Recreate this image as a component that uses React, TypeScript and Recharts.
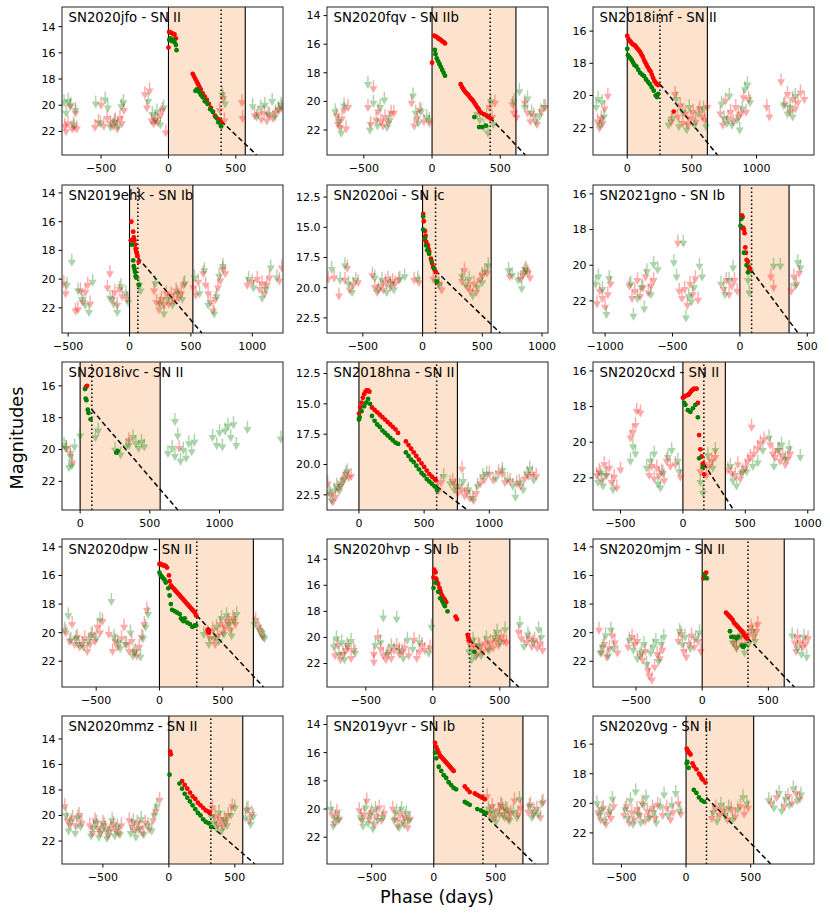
import React from 'react';
import {
  ComposedChart,
  XAxis,
  YAxis,
  Scatter,
  ReferenceArea,
  ReferenceLine,
} from 'recharts';

type Pt = [number, number];

// ---- detections (red = r band, green = g band) and upper limits, per object ----
const jfoRed: Pt[] = [[0,15.6],[5,14.4],[15,14.45],[25,14.5],[35,14.55],[45,14.6],[55,14.9],[180,17.6],[190,17.8],[200,18.0],[210,18.2],[220,18.4],[230,18.6],[240,18.8],[255,19.1],[270,19.35],[285,19.6],[300,19.9],[315,20.2],[330,20.5],[345,20.8],[360,21.0],[375,21.1],[390,21.3]];
const jfoGrn: Pt[] = [[5,15.0],[15,14.9],[25,15.1],[35,15.0],[45,15.2],[55,15.4],[60,15.8],[200,18.9],[210,18.8],[220,18.9],[230,19.0],[240,19.2],[255,19.4],[270,19.7],[290,19.9],[310,20.3],[330,20.5],[350,20.9],[370,21.3],[390,21.6]];
const jfoRedLim: Pt[] = [[-770,21.8],[-760,22.2],[-745,21.6],[-730,20.3],[-715,22.0],[-700,21.9],[-690,20.8],[-680,22.0],[-545,21.9],[-520,21.5],[-500,20.2],[-480,21.8],[-455,21.2],[-430,21.6],[-410,21.8],[-395,21.4],[-380,22.0],[-360,21.2],[-345,21.6],[-330,20.6],[-175,19.4],[-160,20.4],[-140,19.1],[-125,21.4],[-110,21.6],[-95,21.3],[-80,21.5],[-60,21.0],[-45,20.6],[-20,22.3],[380,20.6],[405,19.7],[415,21.4],[545,20.0],[550,21.2],[640,21.0],[665,20.9],[690,21.3],[710,20.8],[730,21.4],[750,21.0],[775,21.2],[795,20.8],[820,20.6],[840,20.4]];
const jfoGrnLim: Pt[] = [[-775,20.0],[-760,20.8],[-745,19.9],[-725,20.2],[-705,21.7],[-690,20.6],[-540,20.1],[-505,21.6],[-470,19.8],[-450,20.4],[-430,21.9],[-400,21.5],[-375,21.8],[-350,20.3],[-335,20.0],[-150,19.9],[-120,20.9],[-100,21.4],[-85,20.7],[-60,21.7],[-35,20.4],[400,19.4],[395,21.8],[420,20.1],[625,20.3],[655,21.1],[685,20.4],[715,20.2],[740,20.9],[770,19.9],[790,21.1],[815,20.5],[835,20.2]];

const fqvRed: Pt[] = [[0,17.3],[15,15.4],[25,15.45],[35,15.5],[45,15.6],[55,15.65],[65,15.7],[75,15.8],[85,15.85],[95,15.95],[210,18.8],[220,19.0],[230,19.15],[240,19.3],[250,19.4],[260,19.5],[270,19.6],[280,19.75],[290,19.85],[300,19.95],[310,20.1],[320,20.25],[330,20.4],[340,20.5],[350,20.7],[360,20.8],[380,20.9],[400,21.0],[415,21.1],[430,21.2]];
const fqvGrn: Pt[] = [[20,16.4],[25,16.7],[35,17.0],[45,17.2],[55,17.4],[65,17.6],[75,17.8],[85,18.0],[95,18.2],[310,21.1],[345,21.8],[365,21.8],[395,21.7]];
const fqvRedLim: Pt[] = [[-700,21.2],[-690,21.8],[-675,22.0],[-660,21.4],[-645,20.8],[-630,22.1],[-615,20.6],[-470,20.6],[-450,21.8],[-430,19.3],[-410,21.5],[-395,20.9],[-375,21.6],[-360,21.9],[-345,21.3],[-320,21.7],[-300,21.0],[-280,21.0],[-150,20.3],[-130,21.9],[-110,21.4],[-90,20.8],[-60,21.6],[-20,21.7],[420,20.6],[440,21.3],[460,20.3],[590,20.4],[600,21.0],[620,21.3],[680,20.3],[700,21.0],[720,21.6],[745,21.2],[770,21.8],[800,20.9],[830,20.6]];
const fqvGrnLim: Pt[] = [[-710,20.9],[-685,21.6],[-665,22.4],[-645,20.5],[-470,19.0],[-455,22.2],[-430,20.3],[-400,21.9],[-380,20.6],[-350,20.1],[-330,22.0],[-310,21.5],[-140,19.8],[-120,21.0],[-100,21.7],[-80,20.9],[-40,21.3],[-20,21.5],[330,21.1],[350,21.5],[380,22.0],[400,21.2],[410,22.4],[430,20.2],[450,21.8],[600,20.2],[640,19.5],[680,20.6],[700,20.0],[730,21.0],[760,21.6],[790,21.2],[820,20.6]];

const imfRed: Pt[] = [[0,16.3],[10,16.5],[20,16.6],[30,16.7],[40,16.8],[50,16.85],[60,16.9],[70,17.0],[80,17.1],[90,17.2],[100,17.3],[110,17.45],[120,17.6],[130,17.8],[140,17.95],[150,18.1],[160,18.25],[170,18.4],[180,18.5],[190,18.7],[200,18.9],[210,19.1],[220,19.2],[230,19.3],[240,19.35],[360,21.0]];
const imfGrn: Pt[] = [[0,17.1],[5,17.5],[15,17.6],[25,17.7],[35,17.8],[45,17.95],[55,18.1],[70,18.2],[85,18.4],[100,18.6],[115,18.7],[130,18.8],[145,19.0],[160,19.15],[175,19.3],[190,19.5],[205,19.7],[220,20.0],[230,20.1],[240,19.9]];
const imfRedLim: Pt[] = [[-230,21.8],[-215,22.2],[-200,21.6],[-190,21.9],[-175,21.0],[-150,20.2],[340,21.8],[370,20.1],[390,21.5],[410,20.8],[430,21.9],[450,21.3],[470,22.0],[490,21.6],[510,21.2],[530,21.8],[560,21.0],[580,21.5],[600,21.7],[620,20.9],[720,21.3],[740,22.0],[760,20.5],[780,21.6],[800,21.2],[820,21.8],[840,20.9],[860,21.5],[880,21.3],[900,20.3],[920,21.2],[940,20.4],[1080,20.9],[1100,21.5],[1190,19.3],[1220,20.7],[1240,20.1],[1260,21.2],[1280,20.4],[1300,21.0],[1320,20.6],[1340,20.0],[1370,20.4]];
const imfGrnLim: Pt[] = [[-240,20.9],[-225,20.4],[-210,22.0],[-195,20.6],[-180,21.5],[320,22.0],[350,21.6],[380,20.4],[400,22.1],[430,21.2],[460,22.3],[480,20.9],[520,22.0],[550,21.3],[590,21.0],[610,22.1],[730,20.7],[750,21.6],[770,21.9],[790,20.2],[810,22.0],[850,21.7],[870,22.3],[890,21.0],[910,19.8],[930,19.5],[950,20.6],[1210,20.8],[1240,21.3],[1260,20.9],[1280,21.5],[1300,20.2]];

const ehkRed: Pt[] = [[10,17.3],[15,16.0],[25,17.3],[30,16.7],[35,17.1],[40,17.3],[45,17.6],[50,17.9],[55,18.1],[60,18.2],[65,18.4],[75,18.8]];
const ehkGrn: Pt[] = [[20,17.6],[30,18.7],[35,19.1],[40,19.3],[45,19.5],[50,19.8],[55,19.9],[75,20.4]];
const ehkRedLim: Pt[] = [[-535,20.5],[-520,21.2],[-440,22.4],[-420,22.3],[-400,21.0],[-380,21.8],[-360,21.1],[-340,20.6],[-320,21.9],[-180,20.8],[-160,19.8],[-140,21.6],[-120,21.1],[-100,22.0],[-80,20.9],[-60,21.4],[-20,21.6],[200,21.0],[220,21.8],[240,22.3],[260,21.6],[280,22.0],[300,21.2],[320,21.9],[340,21.3],[360,21.7],[380,21.0],[400,21.5],[420,21.2],[440,20.6],[520,20.8],[540,21.3],[560,20.4],[600,19.8],[620,20.6],[640,21.2],[660,21.8],[680,22.4],[700,21.6],[720,20.8],[740,20.3],[760,19.5],[780,19.8],[960,20.6],[1000,20.4],[1040,20.2],[1060,20.9],[1080,20.5],[1100,21.2],[1120,20.6],[1140,20.1],[1220,20.3],[1240,19.4]];
const ehkGrnLim: Pt[] = [[-510,20.6],[-470,19.0],[-420,21.0],[-390,21.6],[-360,22.0],[-330,22.5],[-300,20.4],[-160,21.5],[-130,21.9],[-100,22.5],[-70,20.7],[-30,21.2],[-10,21.8],[80,20.6],[90,21.0],[210,20.5],[250,21.9],[280,22.6],[310,21.6],[350,22.0],[390,21.2],[430,21.6],[450,20.5],[530,20.1],[570,21.2],[610,19.6],[640,22.0],[690,22.6],[710,21.4],[730,20.0],[760,19.3],[970,20.2],[1010,20.8],[1080,21.5],[1110,20.9],[1150,19.4],[1200,20.1]];

const oiRed: Pt[] = [[5,13.9],[10,14.5],[15,16.0],[20,15.3],[25,15.7],[30,16.2],[35,16.4],[45,16.5],[50,16.8],[55,17.0],[70,17.6],[80,18.0],[90,18.3],[100,18.5],[110,18.7]];
const oiGrn: Pt[] = [[5,14.1],[5,15.2],[20,15.9],[30,16.5],[40,16.9],[55,17.2],[75,17.8],[95,18.4],[120,19.5]];
const oiRedLim: Pt[] = [[-790,19.5],[-740,19.4],[-700,20.9],[-650,19.6],[-630,18.6],[-610,20.4],[-580,20.0],[-540,19.8],[-420,19.2],[-400,20.2],[-380,20.6],[-350,20.1],[-330,20.4],[-310,19.8],[-290,19.5],[-270,20.2],[-250,19.7],[-230,19.9],[-200,19.6],[-70,19.6],[-30,19.8],[90,19.5],[130,19.9],[160,20.4],[330,19.7],[350,18.8],[380,20.2],[400,20.5],[430,19.9],[450,20.6],[480,19.6],[500,19.2],[540,19.0],[730,19.3],[820,19.5],[840,19.2],[860,18.7],[880,19.0],[900,19.4]];
const oiGrnLim: Pt[] = [[-760,18.7],[-690,19.6],[-650,18.4],[-620,19.9],[-590,20.6],[-560,19.6],[-400,19.4],[-370,20.4],[-340,19.6],[-300,20.6],[-270,19.9],[-240,20.4],[-190,19.5],[-150,19.3],[-40,19.5],[110,19.7],[140,20.0],[330,19.3],[360,20.0],[390,19.5],[420,20.9],[460,20.2],[500,19.8],[520,18.9],[550,18.4],[720,18.8],[750,19.2],[800,19.6],[830,20.3],[850,19.0],[870,18.8]];

const gnoRed: Pt[] = [[15,17.2],[20,17.3],[25,17.9],[15,17.9],[30,18.0],[35,18.2],[40,19.0],[45,19.3],[50,19.7],[60,19.8],[65,20.1],[70,20.3],[75,20.2]];
const gnoGrn: Pt[] = [[10,17.4],[5,17.8],[30,19.3],[50,20.0],[60,20.4]];
const gnoRedLim: Pt[] = [[-1060,22.3],[-1040,21.6],[-1020,22.0],[-1000,22.5],[-980,21.8],[-960,21.2],[-820,21.3],[-800,22.0],[-780,21.6],[-760,21.0],[-740,21.9],[-720,21.4],[-700,20.8],[-680,21.7],[-660,21.3],[-640,21.0],[-460,18.9],[-450,21.6],[-430,22.0],[-410,21.5],[-390,22.4],[-370,21.2],[-350,21.8],[-330,20.9],[-310,22.1],[-120,21.5],[-100,21.0],[-80,21.8],[-60,21.3],[-40,21.0],[-20,21.6],[230,20.8],[250,21.4],[380,21.6],[400,20.8],[420,21.2],[440,20.6]];
const gnoGrnLim: Pt[] = [[-1070,21.2],[-1050,20.8],[-1020,21.5],[-990,22.9],[-970,20.9],[-810,21.2],[-790,23.0],[-760,22.0],[-730,21.4],[-710,22.6],[-690,20.5],[-660,21.8],[-640,20.1],[-610,20.4],[-490,20.0],[-470,20.8],[-420,18.9],[-400,23.1],[-380,21.9],[-360,22.2],[-340,21.4],[-300,20.2],[-280,20.8],[-140,21.2],[-110,21.8],[-80,21.0],[-50,20.3],[60,21.0],[70,21.7],[80,20.5],[250,20.2],[300,20.2],[410,21.3],[430,20.0],[450,20.3]];

const ivcRed: Pt[] = [[40,16.1],[50,16.0]];
const ivcGrn: Pt[] = [[35,16.2],[40,16.8],[45,16.9],[55,17.5],[60,17.7],[75,18.1],[260,20.2],[270,20.1]];
const ivcRedLim: Pt[] = [[-100,20.1],[-70,20.4],[-55,21.0],[350,19.6],[710,20.1]];
const ivcGrnLim: Pt[] = [[-115,19.9],[-100,20.1],[-80,21.3],[-70,20.6],[-60,21.2],[-40,20.0],[0,19.3],[110,19.4],[130,19.0],[250,20.2],[290,20.5],[330,20.0],[350,19.9],[380,19.4],[400,19.8],[420,20.1],[440,19.7],[460,20.0],[630,20.4],[660,20.1],[680,20.6],[680,18.4],[700,19.3],[720,20.9],[740,20.2],[760,20.7],[780,19.8],[800,20.3],[820,19.7],[950,19.4],[980,19.9],[1000,19.1],[1020,20.0],[1040,19.0],[1060,18.7],[1080,19.4],[1100,18.6],[1120,19.9],[1200,18.9],[1440,19.5]];

const hnaRed: Pt[] = [[0,15.8],[10,15.3],[20,14.9],[30,14.5],[40,14.2],[50,14.0],[60,13.9],[70,13.9],[80,14.0],[100,15.3],[120,15.5],[140,15.7],[160,15.9],[180,16.1],[200,16.3],[220,16.5],[240,16.7],[260,16.9],[280,17.1],[300,17.4],[360,18.1],[380,18.4],[400,18.7],[420,19.0],[440,19.3],[460,19.6],[480,19.9],[500,20.2],[520,20.5],[540,20.8],[560,21.0],[580,21.2],[590,21.3]];
const hnaGrn: Pt[] = [[0,16.3],[5,16.1],[20,15.6],[40,15.2],[55,14.9],[70,14.6],[85,15.0],[100,16.0],[120,16.4],[140,16.7],[160,16.9],[180,17.2],[200,17.4],[220,17.6],[240,17.8],[260,18.0],[280,18.2],[300,18.3],[360,19.0],[380,19.3],[400,19.6],[420,19.8],[440,20.1],[460,20.4],[480,20.7],[500,20.9],[520,21.2],[540,21.4],[560,21.6],[580,21.8],[600,22.1]];
const hnaRedLim: Pt[] = [[-240,21.8],[-220,22.7],[-200,23.3],[-180,22.9],[-160,22.2],[-140,22.0],[-120,21.5],[-100,21.0],[-80,21.3],[-60,21.2],[610,22.4],[630,21.7],[720,21.6],[740,22.0],[760,22.6],[790,22.3],[790,20.6],[810,22.8],[830,22.5],[850,23.0],[880,23.2],[900,22.6],[930,21.8],[960,21.5],[1000,21.0],[1030,21.5],[1070,20.9],[1100,21.0],[1120,21.7],[1160,21.6],[1210,21.8],[1240,22.0],[1270,21.4],[1300,21.2],[1330,21.0],[1360,21.2]];
const hnaGrnLim: Pt[] = [[-230,22.5],[-210,23.2],[-190,22.4],[-170,22.0],[-150,22.4],[-130,21.8],[-110,21.4],[-90,20.8],[600,22.3],[650,21.2],[700,21.8],[730,22.3],[770,22.0],[800,21.6],[840,22.3],[870,23.0],[910,22.0],[950,21.2],[980,21.0],[1050,21.4],[1100,20.7],[1140,21.5],[1180,22.0],[1200,22.9],[1230,21.7],[1260,22.3],[1290,21.0],[1310,20.6],[1340,21.5]];

const cxdRed: Pt[] = [[0,17.5],[10,17.45],[20,17.4],[40,17.35],[50,17.3],[60,17.2],[70,17.1],[80,17.05],[90,17.0],[110,17.0],[120,17.8],[130,19.6],[140,20.4],[150,20.8],[160,21.2],[170,21.8]];
const cxdGrn: Pt[] = [[10,17.8],[20,17.9],[40,18.2],[60,18.3],[80,18.1],[100,17.9],[120,18.6],[130,20.9],[160,21.4]];
const cxdRedLim: Pt[] = [[-690,22.0],[-670,21.8],[-650,22.3],[-630,21.4],[-610,22.0],[-590,21.6],[-570,22.4],[-550,22.1],[-530,22.7],[-500,21.7],[-420,19.9],[-400,19.6],[-380,19.2],[-370,18.4],[-340,18.5],[-270,22.0],[-250,21.5],[-230,22.2],[-210,21.6],[-190,22.0],[-170,21.8],[-150,22.3],[-130,21.2],[-100,21.5],[-60,21.4],[-20,22.1],[140,21.8],[170,21.4],[190,22.0],[210,21.5],[230,21.2],[260,21.0],[360,21.7],[390,21.9],[420,22.0],[440,21.4],[460,22.2],[480,21.8],[500,21.6],[520,21.2],[540,21.0],[550,19.3],[570,20.8],[600,20.5],[620,20.2],[650,20.0],[700,20.3],[720,20.8],[740,21.0],[760,20.6],[780,21.2],[800,20.9],[820,21.4],[840,21.1],[860,20.8]];
const cxdGrnLim: Pt[] = [[-680,22.4],[-660,21.9],[-640,22.6],[-620,22.0],[-560,22.8],[-420,21.2],[-400,20.4],[-380,20.8],[-290,21.6],[-260,21.2],[-230,20.8],[-200,22.5],[-180,22.7],[-160,21.9],[-120,21.0],[-90,20.6],[-40,21.2],[-30,21.8],[140,22.4],[160,23.0],[200,20.9],[240,21.6],[260,20.6],[380,21.5],[400,22.3],[430,22.6],[470,21.9],[510,21.8],[560,21.5],[600,21.3],[640,20.6],[690,19.9],[730,21.5],[770,20.6],[790,20.3],[820,21.1],[850,20.5],[940,21.0]];

const dpwRed: Pt[] = [[0,15.2],[10,15.2],[20,15.25],[30,15.3],[40,15.3],[50,15.35],[60,15.45],[75,16.0],[80,16.4],[90,16.7],[100,16.8],[110,16.9],[120,17.0],[130,17.1],[140,17.2],[150,17.3],[160,17.4],[170,17.5],[180,17.6],[190,17.7],[200,17.8],[210,17.9],[220,18.0],[230,18.1],[240,18.2],[250,18.3],[260,18.4],[270,18.5],[280,18.6],[290,18.8],[380,19.8],[390,20.0]];
const dpwGrn: Pt[] = [[0,15.8],[10,16.0],[20,16.1],[30,16.2],[40,16.3],[50,16.5],[70,16.9],[80,17.4],[90,18.0],[100,18.4],[120,18.5],[140,18.6],[160,18.7],[170,19.0],[180,19.1],[190,19.2],[200,19.0],[220,19.3],[240,19.4],[260,19.6],[280,19.5],[290,19.5]];
const dpwRedLim: Pt[] = [[-740,20.2],[-710,20.8],[-690,19.6],[-670,21.0],[-650,20.5],[-630,21.2],[-610,21.0],[-590,20.6],[-570,21.5],[-550,21.0],[-530,20.3],[-510,20.8],[-490,19.8],[-470,20.2],[-450,19.4],[-400,20.3],[-370,21.5],[-350,20.8],[-330,21.2],[-300,20.6],[-280,19.8],[-260,21.0],[-240,21.5],[-220,20.8],[-200,21.6],[-180,21.8],[-160,21.2],[-140,20.5],[-120,19.6],[-100,18.6],[380,20.2],[400,20.6],[420,20.0],[440,21.0],[460,20.4],[480,19.6],[500,20.2],[520,19.8],[540,19.4],[560,20.0],[580,19.2],[600,19.6],[760,19.3],[780,19.8],[800,20.2],[820,20.5]];
const dpwGrnLim: Pt[] = [[-750,20.0],[-720,19.0],[-700,20.7],[-660,20.6],[-640,21.0],[-600,21.2],[-560,20.8],[-540,20.4],[-500,20.6],[-470,19.3],[-380,18.0],[-360,20.5],[-330,20.9],[-310,21.3],[-270,21.0],[-230,20.2],[-210,21.8],[-190,21.5],[-150,21.9],[-130,20.6],[-110,19.8],[-90,18.9],[350,20.3],[390,21.0],[430,20.6],[450,19.8],[470,20.8],[490,19.2],[510,20.3],[530,19.0],[550,19.6],[570,20.4],[590,19.4],[610,18.9],[750,19.6],[790,20.0],[810,20.4],[830,20.6]];

const hvpRed: Pt[] = [[5,15.4],[10,14.8],[15,15.0],[20,15.0],[25,15.5],[30,15.7],[40,15.9],[50,16.2],[55,16.4],[60,16.6],[70,16.8],[80,17.0],[90,17.1],[100,17.3],[170,18.4],[180,18.6],[260,19.8],[265,20.0],[270,20.2]];
const hvpGrn: Pt[] = [[5,16.2],[20,15.8],[40,16.5],[55,17.0],[70,17.2],[80,17.4],[90,17.6],[110,18.0],[310,21.1]];
const hvpRedLim: Pt[] = [[-730,21.6],[-710,20.8],[-690,21.9],[-670,21.5],[-650,21.2],[-630,21.0],[-610,21.8],[-590,21.2],[-440,21.5],[-440,22.1],[-410,20.2],[-390,21.1],[-370,21.6],[-350,21.9],[-330,21.3],[-310,21.8],[-290,21.2],[-270,20.9],[-250,21.5],[-230,21.3],[-210,21.0],[-180,21.6],[-140,20.4],[-120,21.8],[-100,21.3],[-80,20.8],[-60,21.2],[-20,21.0],[270,20.6],[290,21.0],[310,20.8],[330,21.5],[350,20.9],[370,21.3],[390,20.7],[410,21.1],[430,20.6],[450,21.0],[470,20.4],[490,20.8],[510,20.2],[530,20.5],[550,20.6],[640,19.8],[660,20.3],[700,20.6],[720,20.3],[740,20.9],[760,20.4],[780,21.0],[800,20.7],[820,21.2]];
const hvpGrnLim: Pt[] = [[-740,20.9],[-720,20.3],[-700,21.5],[-680,20.6],[-660,21.9],[-640,20.8],[-610,20.5],[-580,21.4],[-430,20.8],[-390,20.6],[-370,18.7],[-340,21.5],[-310,20.9],[-270,18.8],[-250,21.2],[-220,21.8],[-190,20.4],[-150,21.1],[-100,20.6],[-30,21.4],[-10,19.4],[270,21.3],[290,21.9],[300,20.4],[320,21.7],[340,20.8],[360,21.6],[400,20.3],[420,21.2],[460,20.2],[480,19.8],[500,20.6],[540,19.6],[650,19.2],[680,20.9],[710,20.0],[750,20.6],[790,19.6],[810,20.2]];

const mjmRed: Pt[] = [[10,16.2],[15,16.0],[20,15.9],[30,15.8],[180,18.6],[190,18.7],[200,18.8],[210,18.9],[220,19.0],[230,19.1],[240,19.3],[250,19.4],[260,19.5],[270,19.6],[280,19.7],[290,19.8],[300,19.9],[310,20.0],[320,20.2],[330,20.3],[340,20.4]];
const mjmGrn: Pt[] = [[15,16.0],[35,16.2],[210,19.9],[220,20.3],[240,20.3],[260,20.4],[270,20.3],[300,20.9],[310,21.0],[320,20.9]];
const mjmRedLim: Pt[] = [[-780,20.0],[-760,21.6],[-740,21.0],[-720,21.9],[-700,21.3],[-680,20.4],[-660,20.9],[-640,21.6],[-560,21.2],[-530,20.5],[-510,21.0],[-490,20.8],[-470,21.8],[-450,22.1],[-430,21.5],[-410,22.8],[-400,23.2],[-380,23.5],[-360,22.6],[-340,21.7],[-320,22.0],[-300,21.4],[-180,20.8],[-160,20.3],[-140,21.5],[-120,21.9],[-100,21.0],[-80,20.4],[-60,21.2],[-30,20.8],[-10,21.5],[240,20.9],[260,21.2],[280,20.5],[300,21.0],[330,20.6],[350,20.3],[370,19.8],[390,20.5],[410,20.1],[420,19.6],[700,20.9],[710,21.5],[720,20.5],[740,20.9],[760,21.2],[780,21.0],[800,20.6]];
const mjmGrnLim: Pt[] = [[-770,21.6],[-750,21.2],[-730,20.4],[-710,21.8],[-690,20.0],[-670,21.3],[-550,20.7],[-520,21.4],[-490,22.0],[-460,21.6],[-440,21.0],[-420,22.4],[-390,21.6],[-370,21.2],[-350,20.8],[-330,22.2],[-310,21.0],[-290,20.5],[-170,20.1],[-150,21.0],[-130,20.5],[-90,21.3],[-50,20.6],[-20,20.2],[230,20.9],[260,21.3],[290,20.4],[320,21.6],[350,21.0],[380,20.1],[400,20.8],[680,20.4],[720,21.3],[750,21.7],[770,20.5],[790,21.9]];

const mmzRed: Pt[] = [[10,15.0],[15,15.2],[100,17.3],[120,17.6],[140,17.9],[160,18.2],[180,18.5],[200,18.7],[220,19.0],[240,19.2],[260,19.4],[280,19.6],[300,19.7],[310,19.8]];
const mmzGrn: Pt[] = [[5,16.8],[80,17.5],[100,17.9],[120,18.3],[140,18.6],[160,18.9],[180,19.2],[200,19.5],[220,19.8],[240,20.0],[260,20.3],[280,20.5],[300,20.6],[320,20.9]];
const mmzRedLim: Pt[] = [[-790,19.5],[-770,20.6],[-750,21.0],[-730,20.4],[-700,21.0],[-680,20.2],[-660,20.8],[-600,21.0],[-580,21.6],[-560,20.6],[-540,21.2],[-520,21.6],[-500,20.8],[-480,21.3],[-460,21.8],[-440,21.2],[-420,20.9],[-400,21.4],[-380,21.6],[-360,21.0],[-300,20.6],[-280,21.1],[-260,21.4],[-240,20.8],[-220,21.2],[-200,21.6],[-180,20.8],[-150,21.3],[-120,20.6],[-100,19.9],[-70,19.0],[330,19.6],[350,20.3],[370,20.9],[390,20.5],[410,21.1],[430,20.7],[450,20.2],[480,19.5],[590,19.8],[610,20.6],[630,20.1]];
const mmzGrnLim: Pt[] = [[-780,20.2],[-760,21.4],[-740,20.7],[-710,21.6],[-690,20.4],[-670,21.1],[-590,21.8],[-570,21.2],[-550,20.8],[-530,21.9],[-510,21.4],[-490,21.0],[-470,22.0],[-450,21.5],[-430,20.6],[-410,21.8],[-390,21.1],[-370,21.7],[-290,21.6],[-270,20.7],[-250,21.9],[-230,21.3],[-210,20.5],[-190,21.7],[-160,21.0],[-130,21.4],[-110,20.2],[-90,19.5],[320,20.3],[340,20.8],[360,21.2],[380,20.0],[400,21.4],[420,20.5],[440,21.0],[470,20.2],[500,19.6],[580,20.4],[600,19.7],[620,20.9],[640,20.3]];

const yvrRed: Pt[] = [[10,15.3],[20,15.6],[30,15.8],[40,16.0],[50,16.2],[60,16.3],[70,16.4],[80,16.5],[90,16.6],[100,16.7],[110,16.8],[120,16.9],[130,17.0],[140,17.1],[150,17.2],[160,17.3],[250,18.4],[270,18.6],[290,18.8],[330,18.9],[350,19.0],[370,19.1],[390,19.2],[410,19.3]];
const yvrGrn: Pt[] = [[10,16.0],[20,16.4],[40,17.0],[60,17.3],[80,17.6],[100,17.8],[120,18.1],[140,18.3],[160,18.5],[180,18.6],[250,19.5],[270,19.6],[290,19.7],[350,20.0],[380,20.1],[400,20.2],[420,20.3]];
const yvrRedLim: Pt[] = [[-820,20.6],[-800,21.2],[-780,20.4],[-760,20.9],[-600,20.3],[-580,21.0],[-560,20.6],[-540,19.6],[-520,20.9],[-500,20.4],[-480,21.3],[-460,20.7],[-440,20.1],[-420,21.0],[-400,20.5],[-330,20.2],[-310,20.9],[-290,21.4],[-270,20.6],[-250,21.1],[-230,20.8],[-210,21.5],[-190,20.9],[430,19.3],[450,20.5],[470,20.0],[490,20.8],[520,20.3],[540,19.9],[560,20.6],[580,20.2],[600,20.9],[620,20.5],[650,19.6],[680,20.6],[700,20.1],[760,20.4],[780,19.9],[800,20.6],[830,20.2],[860,20.8],[880,19.7]];
const yvrGrnLim: Pt[] = [[-830,20.2],[-810,21.4],[-790,20.8],[-770,21.0],[-590,20.8],[-570,21.4],[-550,20.1],[-530,21.2],[-510,20.6],[-490,21.6],[-470,20.2],[-450,21.0],[-410,20.8],[-320,21.0],[-300,20.4],[-280,21.5],[-260,20.2],[-240,21.3],[-220,20.5],[-200,21.0],[440,20.2],[460,20.9],[480,20.4],[500,21.1],[530,20.6],[550,20.0],[570,20.8],[590,20.3],[610,21.0],[640,20.4],[670,20.8],[690,19.5],[770,20.0],[790,20.8],[810,20.4],[840,20.6],[870,19.8]];

const vgRed: Pt[] = [[5,16.3],[10,16.4],[15,16.5],[25,16.6],[35,16.7],[50,17.3],[60,17.5],[80,17.7],[100,18.0],[110,18.1],[120,18.3],[130,18.4],[150,18.6]];
const vgGrn: Pt[] = [[5,17.3],[10,17.2],[20,17.6],[60,19.1],[80,19.3],[100,19.6],[120,19.8],[140,19.9]];
const vgRedLim: Pt[] = [[-680,20.8],[-660,21.3],[-640,20.5],[-620,21.6],[-600,20.9],[-580,21.2],[-560,20.4],[-480,21.0],[-460,20.4],[-440,21.5],[-420,20.8],[-400,21.3],[-380,20.6],[-360,21.0],[-340,20.2],[-320,21.4],[-300,20.7],[-280,21.1],[-260,20.5],[-240,21.2],[-220,20.3],[-180,21.0],[-150,20.5],[-120,21.3],[-100,20.8],[-60,20.2],[-40,20.9],[200,21.2],[230,20.5],[260,21.0],[290,20.7],[320,21.3],[350,20.6],[380,21.1],[420,20.4],[450,20.9],[480,20.5],[660,20.2],[700,19.8],[760,20.4],[790,19.7],[820,20.2],[850,19.5],[880,19.9]];
const vgGrnLim: Pt[] = [[-690,20.2],[-670,21.0],[-650,20.6],[-630,21.4],[-590,20.7],[-570,19.9],[-470,20.6],[-450,21.2],[-430,20.0],[-410,21.6],[-390,19.4],[-370,20.9],[-350,21.5],[-330,20.3],[-310,19.8],[-290,21.2],[-250,20.8],[-230,21.5],[-200,20.4],[-170,19.6],[-140,21.0],[-110,20.3],[-80,19.5],[-50,20.7],[210,20.8],[240,21.4],[270,20.3],[300,21.0],[330,20.5],[360,21.3],[400,20.6],[440,19.8],[470,20.2],[640,20.0],[680,20.5],[720,19.5],[740,20.7],[770,19.9],[800,20.3],[830,19.2],[860,20.0],[890,19.6]];

// ---- panel names and axis setup ----
const NAMES = [
  'SN2020jfo - SN II', 'SN2020fqv - SN IIb', 'SN2018imf - SN II',
  'SN2019ehk - SN Ib', 'SN2020oi - SN Ic', 'SN2021gno - SN Ib',
  'SN2018ivc - SN II', 'SN2018hna - SN II', 'SN2020cxd - SN II',
  'SN2020dpw - SN II', 'SN2020hvp - SN Ib', 'SN2020mjm - SN II',
  'SN2020mmz - SN II', 'SN2019yvr - SN Ib', 'SN2020vg - SN II',
];
const X_DOMAINS = [
  [-790, 850], [-770, 850], [-265, 1445],
  [-550, 1250], [-800, 1050], [-1090, 550],
  [-130, 1455], [-245, 1450], [-720, 1050],
  [-770, 976], [-790, 860], [-825, 845],
  [-810, 865], [-860, 920], [-720, 990],
];
const Y_DOMAINS = [
  [12.5, 23.8], [13.4, 23.75], [14.5, 23.7],
  [13.45, 23.75], [11.5, 23.75], [15.5, 23.8],
  [14.5, 23.8], [11.55, 23.75], [15.5, 23.8],
  [13.45, 23.8], [12.45, 23.8], [13.45, 23.8],
  [12.2, 23.8], [13.4, 23.9], [14.1, 24.1],
];
const X_TICKS = [
  [-500, 0, 500], [-500, 0, 500], [0, 500, 1000],
  [-500, 0, 500, 1000], [-500, 0, 500, 1000], [-1000, -500, 0, 500],
  [0, 500, 1000], [0, 500, 1000], [-500, 0, 500, 1000],
  [-500, 0, 500], [-500, 0, 500], [-500, 0, 500],
  [-500, 0, 500], [-500, 0, 500], [-500, 0, 500],
];
const Y_EVEN = [14, 16, 18, 20, 22];
const Y_HIGH = [16, 18, 20, 22];
const Y_HALF = [12.5, 15, 17.5, 20, 22.5];
const Y_TICKS = [
  Y_EVEN, Y_EVEN, Y_HIGH,
  Y_EVEN, Y_HALF, Y_HIGH,
  Y_HIGH, Y_HALF, Y_HIGH,
  Y_EVEN, Y_EVEN, Y_EVEN,
  Y_EVEN, Y_EVEN, Y_HIGH,
];
// end of shaded window, dotted epoch, dashed decline segment
const SHADE_END = [570, 615, 620, 516, 574, 365, 574, 755, 340, 742, 575, 620, 560, 718, 523];
const DOT_X = [391, 426, 253, 68, 109, 87, 84, 596, 168, 295, 275, 346, 318, 396, 158];
const DASH: Pt[][] = [
  [[391, 21.2], [654, 23.8]], [[426, 21.15], [684, 23.75]], [[253, 19.3], [698, 23.7]],
  [[68, 18.5], [589, 23.75]], [[109, 18.6], [650, 23.75]], [[87, 20.3], [432, 23.8]],
  [[84, 17.5], [701, 23.8]], [[596, 21.8], [831, 23.75]], [[168, 21.2], [406, 23.8]],
  [[295, 18.8], [822, 23.8]], [[275, 20.2], [642, 23.8]], [[346, 20.4], [696, 23.8]],
  [[318, 20.8], [651, 23.8]], [[396, 20.3], [815, 23.9]], [[158, 19.6], [655, 24.1]],
];
const RED = [jfoRed, fqvRed, imfRed, ehkRed, oiRed, gnoRed, ivcRed, hnaRed, cxdRed, dpwRed, hvpRed, mjmRed, mmzRed, yvrRed, vgRed];
const GRN = [jfoGrn, fqvGrn, imfGrn, ehkGrn, oiGrn, gnoGrn, ivcGrn, hnaGrn, cxdGrn, dpwGrn, hvpGrn, mjmGrn, mmzGrn, yvrGrn, vgGrn];
const RED_LIM = [jfoRedLim, fqvRedLim, imfRedLim, ehkRedLim, oiRedLim, gnoRedLim, ivcRedLim, hnaRedLim, cxdRedLim, dpwRedLim, hvpRedLim, mjmRedLim, mmzRedLim, yvrRedLim, vgRedLim];
const GRN_LIM = [jfoGrnLim, fqvGrnLim, imfGrnLim, ehkGrnLim, oiGrnLim, gnoGrnLim, ivcGrnLim, hnaGrnLim, cxdGrnLim, dpwGrnLim, hvpGrnLim, mjmGrnLim, mmzGrnLim, yvrGrnLim, vgGrnLim];

// layout
const COL_X = [62, 327, 593];
const ROW_Y = [7, 185, 362, 539, 716];
const PW = 221;
const PH = 148;
const YW = 45;
const XH = 24;
const RM = 14;
const FONT = 'DejaVu Sans, sans-serif';
const RED_C = '#ff0000';
const GRN_C = '#008000';

const toObj = (a: Pt[]) => a.map(([x, y]) => ({ x, y }));
const fmt = (v: number) => (v < 0 ? '\u2212' + Math.abs(v) : String(v));
const fmtY = (half: boolean) => (v: number) => (half ? v.toFixed(1) : String(v));

// upper-limit marker: a downward arrow
const arrow = (color: string) => (p: any) => {
  const { cx, cy } = p;
  if (cx == null || cy == null) return <g />;
  return (
    <g opacity={0.33}>
      <line x1={cx} y1={cy - 11} x2={cx} y2={cy - 3} stroke={color} strokeWidth={1.4} />
      <path d={`M${cx - 4},${cy - 5}L${cx + 4},${cy - 5}L${cx},${cy + 2}Z`} fill={color} />
    </g>
  );
};

const dot = (color: string) => (p: any) => {
  const { cx, cy } = p;
  if (cx == null || cy == null) return <g />;
  return <circle cx={cx} cy={cy} r={2.4} fill={color} />;
};

function Panel({ i }: { i: number }) {
  const left = COL_X[i % 3];
  const top = ROW_Y[Math.floor(i / 3)];
  const half = Y_TICKS[i] === Y_HALF;
  const d = DASH[i];
  return (
    <div style={{ position: 'absolute', left: left - YW, top }}>
      <ComposedChart width={YW + PW + RM} height={PH + XH} margin={{ top: 0, right: RM, bottom: 0, left: 0 }}>
        <XAxis
          type="number"
          dataKey="x"
          domain={X_DOMAINS[i]}
          ticks={X_TICKS[i]}
          interval={0}
          allowDataOverflow
          axisLine={false}
          tickSize={3.5}
          tickMargin={5.5}
          height={XH}
          tickLine={{ stroke: '#000' }}
          tick={{ fontSize: 11, fill: '#000', fontFamily: FONT }}
          tickFormatter={fmt}
        />
        <YAxis
          type="number"
          dataKey="y"
          domain={Y_DOMAINS[i]}
          ticks={Y_TICKS[i]}
          interval={0}
          reversed
          allowDataOverflow
          axisLine={false}
          tickSize={3.5}
          tickMargin={3}
          width={YW}
          tickLine={{ stroke: '#000' }}
          tick={{ fontSize: 11, fill: '#000', fontFamily: FONT }}
          tickFormatter={fmtY(half)}
        />
        <ReferenceArea x1={0} x2={SHADE_END[i]} fill="#fde3cd" fillOpacity={1} stroke="none" />
        <ReferenceLine x={0} stroke="#000" strokeWidth={1.1} />
        <ReferenceLine x={SHADE_END[i]} stroke="#000" strokeWidth={1.1} />
        <Scatter data={toObj(RED_LIM[i])} shape={arrow(RED_C)} isAnimationActive={false} />
        <Scatter data={toObj(GRN_LIM[i])} shape={arrow(GRN_C)} isAnimationActive={false} />
        <Scatter data={toObj(RED[i])} shape={dot(RED_C)} isAnimationActive={false} />
        <Scatter data={toObj(GRN[i])} shape={dot(GRN_C)} isAnimationActive={false} />
        <ReferenceLine x={DOT_X[i]} stroke="#000" strokeWidth={1.5} strokeDasharray="1.5 2.5" />
        <ReferenceLine
          segment={[{ x: d[0][0], y: d[0][1] }, { x: d[1][0], y: d[1][1] }]}
          stroke="#000"
          strokeWidth={1.5}
          strokeDasharray="5 3"
        />
      </ComposedChart>
    </div>
  );
}

export default function App() {
  return (
    <div style={{ position: 'absolute', left: 0, top: 0, width: 830, height: 915, background: '#fff' }}>
      {NAMES.map((_, i) => (
        <Panel key={i} i={i} />
      ))}
      <svg width={830} height={915} style={{ position: 'absolute', left: 0, top: 0, pointerEvents: 'none' }}>
        {NAMES.map((n, i) => {
          const x = COL_X[i % 3];
          const y = ROW_Y[Math.floor(i / 3)];
          return (
            <g key={n}>
              <rect x={x} y={y} width={PW} height={PH} fill="none" stroke="#222" strokeWidth={1} />
              <text x={x + 6.5} y={y + 15} fontSize={13.3} fontFamily={FONT} fill="#000">
                {n}
              </text>
            </g>
          );
        })}
        <text x={437} y={903} fontSize={17.7} fontFamily={FONT} textAnchor="middle" fill="#000">
          Phase (days)
        </text>
        <text
          x={0}
          y={0}
          fontSize={17.7}
          fontFamily={FONT}
          textAnchor="middle"
          fill="#000"
          transform="translate(23,438) rotate(-90)"
        >
          Magnitudes
        </text>
      </svg>
    </div>
  );
}
